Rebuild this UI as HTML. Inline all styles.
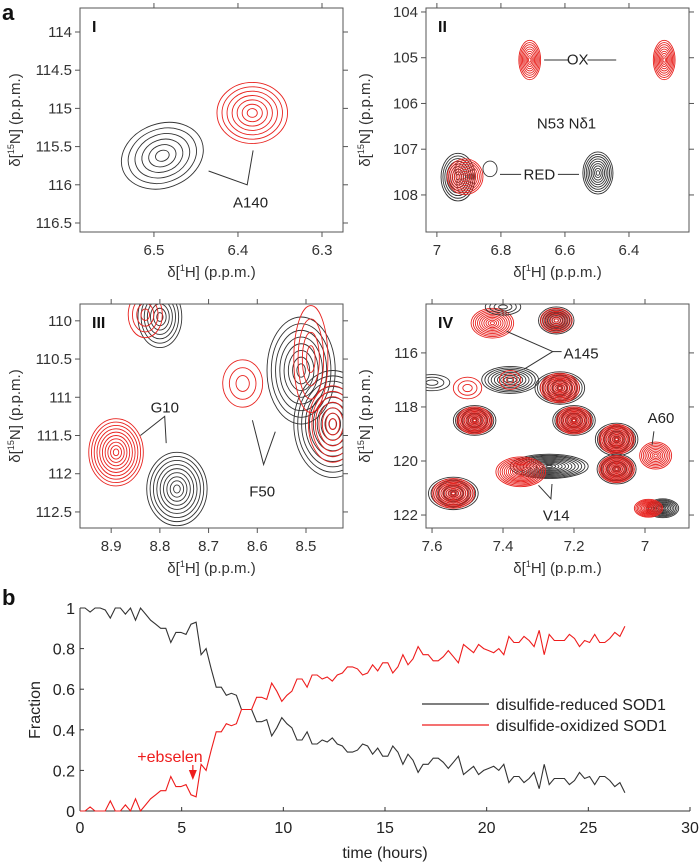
<!DOCTYPE html>
<html><head><meta charset="utf-8">
<style>
html,body{margin:0;padding:0;background:#fff;}
svg{display:block;font-family:"Liberation Sans",Arial,sans-serif;}
</style></head>
<body>
<svg id="fig" width="700" height="864" viewBox="0 0 700 864"></svg>
<script>
// ---------- Panel b data ----------
const bTimeStart = 0;
const bTimeEnd = 26.8;
const reducedFraction = [1,1,.98,1,1,.99,.95,1,1,.97,1,.94,1,.97,.94,.92,.90,.90,.83,.88,.88,.87,.92,.93,.77,.80,.70,.61,.61,.57,.58,.57,.50,.50,.50,.44,.44,.45,.37,.41,.46,.43,.41,.35,.35,.39,.33,.33,.35,.34,.36,.33,.32,.29,.29,.30,.33,.32,.28,.31,.27,.27,.32,.29,.23,.28,.25,.19,.23,.23,.26,.26,.24,.21,.24,.27,.18,.20,.22,.18,.20,.21,.22,.20,.23,.14,.17,.17,.14,.16,.19,.11,.23,.13,.16,.16,.16,.13,.15,.19,.16,.17,.13,.17,.17,.15,.12,.14,.09];
const oxidizedFraction = [0,0,.02,0,0,0,.05,0,0,.03,0,.06,0,.03,.06,.08,.10,.10,.17,.12,.12,.13,.08,.07,.23,.20,.30,.39,.39,.43,.42,.43,.50,.50,.50,.56,.56,.55,.63,.59,.54,.57,.59,.65,.65,.61,.67,.67,.65,.66,.64,.67,.68,.71,.71,.70,.67,.68,.72,.69,.73,.73,.68,.71,.77,.72,.75,.81,.77,.77,.74,.74,.76,.79,.76,.73,.82,.80,.78,.82,.80,.79,.78,.80,.77,.86,.83,.83,.86,.84,.81,.89,.77,.87,.84,.84,.84,.87,.85,.81,.84,.83,.87,.83,.83,.85,.88,.86,.91];
const bXTicks = [0,5,10,15,20,25,30];
const bYTicks = [0,0.2,0.4,0.6,0.8,1];
const bYTickLabels = ["0","0.2","0.4","0.6","0.8","1"];

// ---------- Panel a data (peaks: [H ppm, N ppm, rxPpm, ryPpm, rotDeg, rings, color]) ----------
const peaksI = [
 [6.383,115.06,0.042,0.4,0,7,'r'],
 [6.49,115.62,0.05,0.42,-20,6,'k']
];
const peaksII = [
 [6.71,105.05,0.034,0.43,0,9,'r'],
 [6.29,105.05,0.034,0.43,0,9,'r'],
 [6.497,107.52,0.047,0.46,0,9,'k'],
 [6.934,107.61,0.053,0.52,0,9,'k'],
 [6.834,107.43,0.022,0.17,0,1,'k'],
 [6.912,107.6,0.056,0.39,0,10,'r']
];
const peaksIII = [
 [8.89,111.72,0.056,0.44,0,10,'r'],
 [8.765,112.2,0.062,0.48,0,9,'k'],
 [8.63,110.82,0.041,0.31,0,3,'r'],
 [8.80,109.95,0.045,0.4,0,7,'k'],
 [8.83,109.92,0.035,0.3,0,4,'r'],
 [8.51,110.65,0.07,0.7,0,8,'k'],
 [8.445,111.35,0.08,0.7,0,10,'k'],
 [8.49,110.5,0.035,0.7,0,4,'r'],
 [8.445,111.35,0.05,0.5,0,7,'r']
];
const peaksIV = [
 [7.54,121.2,0.07,0.6,0,10,'k'],[7.54,121.2,0.06,0.55,0,12,'r'],
 [7.48,118.5,0.06,0.55,0,10,'k'],[7.48,118.5,0.05,0.5,0,12,'r'],
 [7.2,118.5,0.06,0.55,0,10,'k'],[7.2,118.5,0.05,0.5,0,12,'r'],
 [7.24,117.3,0.07,0.6,0,10,'k'],[7.24,117.3,0.055,0.55,0,12,'r'],
 [7.25,114.8,0.05,0.5,0,8,'k'],[7.25,114.8,0.045,0.45,0,8,'r'],
 [7.08,119.2,0.06,0.6,0,10,'k'],[7.08,119.2,0.05,0.55,0,12,'r'],
 [7.08,120.3,0.055,0.55,0,10,'k'],[7.08,120.3,0.05,0.5,0,12,'r'],
 [6.95,121.75,0.045,0.35,0,10,'k'],[6.99,121.75,0.04,0.33,0,10,'r'],
 [6.97,119.8,0.045,0.5,0,9,'r'],
 [7.43,114.9,0.06,0.55,0,10,'r'],
 [7.27,120.2,0.11,0.45,0,12,'k'],
 [7.35,120.4,0.07,0.55,0,12,'r'],
 [7.38,117.0,0.08,0.5,0,9,'k'],[7.38,117.0,0.03,0.35,0,3,'r'],
 [7.5,117.3,0.04,0.4,0,3,'r'],[7.6,117.1,0.05,0.3,0,3,'k'],
 [7.4,114.3,0.05,0.3,0,4,'k']
];

const NS='http://www.w3.org/2000/svg';
const svg=document.getElementById('fig');
function el(tag,attrs,parent){const e=document.createElementNS(NS,tag);for(const k in attrs)e.setAttribute(k,attrs[k]);(parent||svg).appendChild(e);return e;}
const COL={r:'#e8231f',k:'#333'};

const panels=[
 {id:'I',fx:80,fy:8,fw:263,fh:224,hL:6.588,hR:6.275,nT:113.686,nB:116.618,xt:[6.5,6.4,6.3],yt:[114,114.5,115,115.5,116,116.5],peaks:peaksI,titleY:277,yTitleX:15},
 {id:'II',fx:426,fy:8,fw:263,fh:224,hL:7.034,hR:6.2125,nT:103.913,nB:108.81,xt:[7,6.8,6.6,6.4],yt:[104,105,106,107,108],peaks:peaksII,titleY:277,yTitleX:365},
 {id:'III',fx:80,fy:304,fw:263,fh:224,hL:8.964,hR:8.424,nT:109.78,nB:112.71,xt:[8.9,8.8,8.7,8.6,8.5],yt:[110,110.5,111,111.5,112,112.5],peaks:peaksIII,titleY:573,yTitleX:15},
 {id:'IV',fx:426,fy:304,fw:263,fh:224,hL:7.617,hR:6.876,nT:114.19,nB:122.48,xt:[7.6,7.4,7.2,7],yt:[116,118,120,122],peaks:peaksIV,titleY:573,yTitleX:365}
];

el('text',{x:2,y:20,'font-size':22,'font-weight':'bold',fill:'#111',}).textContent='a';

panels.forEach(p=>{
 const g=el('g',{});
 
 
 const sx=h=>p.fx+(p.hL-h)/(p.hL-p.hR)*p.fw;
 const sy=n=>p.fy+(n-p.nT)/(p.nB-p.nT)*p.fh;
 p.sx=sx;p.sy=sy;
 const cp=el('clipPath',{id:'clip'+p.id},g);
 el('rect',{x:p.fx,y:p.fy,width:p.fw,height:p.fh},cp);
 const cg=el('g',{'clip-path':'url(#clip'+p.id+')'},g);
 
 
 p.peaks.forEach(pk=>{
  const [h,n,rx,ry,rot,rings,c]=pk;
  const cx=sx(h),cy=sy(n);
  const rxp=rx/(p.hL-p.hR)*p.fw, ryp=ry/(p.nB-p.nT)*p.fh;
  for(let k=0;k<rings;k++){
   const s=(k+1)/rings;
   const e=el('ellipse',{cx:cx,cy:cy,rx:Math.max(0.8,rxp*s),ry:Math.max(0.8,ryp*s),fill:'none',stroke:COL[c],'stroke-width':0.9,transform:`rotate(${rot} ${cx} ${cy})`},cg);
   
   
  }
 });
 const fr=el('rect',{x:p.fx,y:p.fy,width:p.fw,height:p.fh,fill:'none',stroke:'#555','stroke-width':1},g);
 
 
 p.xt.forEach(t=>{
  const x=sx(t);
  el('line',{x1:x,x2:x,y1:p.fy+p.fh,y2:p.fy+p.fh+5,stroke:'#555'},g);
  el('line',{x1:x,x2:x,y1:p.fy,y2:p.fy-5,stroke:'#555'},g);
  const tl=el('text',{x:x,y:p.fy+p.fh+23,'font-size':15,fill:'#333','text-anchor':'middle'},g);
  
  
  tl.textContent=String(t);
 });
 p.yt.forEach(t=>{
  const y=sy(t);
  el('line',{x1:p.fx,x2:p.fx-5,y1:y,y2:y,stroke:'#555'},g);
  el('line',{x1:p.fx+p.fw,x2:p.fx+p.fw+5,y1:y,y2:y,stroke:'#555'},g);
  const tl=el('text',{x:p.fx-8,y:y+5,'font-size':15,fill:'#333','text-anchor':'end'},g);
  
  
  tl.textContent=String(t);
 });
 const xt=el('text',{x:p.fx+p.fw/2,y:p.titleY,'font-size':15,fill:'#333','text-anchor':'middle'},g);
 
 
 xt.innerHTML='δ[<tspan font-size="9" dy="-6">1</tspan><tspan dy="6">H] (p.p.m.)</tspan>';
 const yt=el('text',{x:0,y:0,'font-size':15,fill:'#333','text-anchor':'middle',transform:`translate(${p.yTitleX+5},${p.fy+p.fh/2}) rotate(-90)`},g);
 
 
 yt.innerHTML='δ[<tspan font-size="9" dy="-6">15</tspan><tspan dy="6">N] (p.p.m.)</tspan>';
 const pl=el('text',{x:p.fx+12,y:p.fy+24,'font-size':16,'font-weight':'bold',fill:'#111'},g);
 
 
 pl.textContent=p.id;
});

function ann(p,pts,color){
 const d=pts.map((q,i)=>(i?'L':'M')+p.sx(q[0]).toFixed(1)+' '+p.sy(q[1]).toFixed(1)).join(' ');
 const e=el('path',{d:d,fill:'none',stroke:color||'#333','stroke-width':1});
 
 
}
function lab(p,h,n,txt,name,size){
 const e=el('text',{x:p.sx(h),y:p.sy(n),'font-size':size||15,fill:'#222','text-anchor':'middle'});
 
 
 e.textContent=txt;
}
const [P1,P2,P3,P4]=panels;
ann(P1,[[6.435,115.82],[6.389,116.0],[6.382,115.55]]);
lab(P1,6.385,116.3,'A140','label-a140');
ann(P2,[[6.665,105.05],[6.59,105.05]]);ann(P2,[[6.53,105.05],[6.44,105.05]]);
lab(P2,6.56,105.15,'OX','label-ox',15);
lab(P2,6.595,106.55,'N53 Nδ1','label-n53');
ann(P2,[[6.803,107.55],[6.737,107.55]]);ann(P2,[[6.622,107.55],[6.556,107.55]]);
lab(P2,6.68,107.66,'RED','label-red',15);
ann(P3,[[8.84,111.5],[8.79,111.25],[8.787,111.6]]);
lab(P3,8.79,111.2,'G10','label-g10');
ann(P3,[[8.61,111.3],[8.587,111.88],[8.563,111.45]]);
lab(P3,8.59,112.3,'F50','label-f50');
ann(P4,[[7.39,115.2],[7.26,115.95],[7.34,116.6]]);ann(P4,[[7.26,115.95],[7.235,115.95]]);
lab(P4,7.18,116.2,'A145','label-a145');
ann(P4,[[6.98,119.4],[6.975,118.9]]);
lab(P4,6.955,118.6,'A60','label-a60');
ann(P4,[[7.3,120.9],[7.265,121.4],[7.262,120.85]]);
lab(P4,7.25,122.2,'V14','label-v14');

// ---------- Panel b ----------
const bx0=80,bx1=690,by0=811,by1=608;
const bxs=t=>bx0+(t-0)/(30-0)*(bx1-bx0);
const bys=v=>by0+(v-0)/(1-0)*(by1-by0);
const gb=el('g',{});


const bl=el('text',{x:2,y:605,'font-size':22,'font-weight':'bold',fill:'#111'},gb);


bl.textContent='b';
el('line',{x1:bx0,x2:bx0,y1:by0,y2:by1,stroke:'#333'},gb);
el('line',{x1:bx0,x2:bx1,y1:by0,y2:by0,stroke:'#333'},gb);
bXTicks.forEach(t=>{
 el('line',{x1:bxs(t),x2:bxs(t),y1:by0,y2:by0-4,stroke:'#333'},gb);
 const e=el('text',{x:bxs(t),y:by0+22,'font-size':16,fill:'#222','text-anchor':'middle'},gb);
 
 
 e.textContent=String(t);
});
bYTicks.forEach((v,i)=>{
 el('line',{x1:bx0,x2:bx0+4,y1:bys(v),y2:bys(v),stroke:'#333'},gb);
 const e=el('text',{x:bx0-5,y:bys(v)+6,'font-size':16,fill:'#222','text-anchor':'end'},gb);
 
 
 e.textContent=bYTickLabels[i];
});
const xtb=el('text',{x:bxs(15),y:858,'font-size':16,fill:'#222','text-anchor':'middle'},gb);


xtb.textContent='time (hours)';
const ytb=el('text',{x:0,y:0,'font-size':16,fill:'#222','text-anchor':'middle',transform:'translate(40,710) rotate(-90)'},gb);


ytb.textContent='Fraction';
function series(vals,color,name){
 const n=vals.length;
 const d=vals.map((v,i)=>{const t=bTimeStart+(bTimeEnd-bTimeStart)*i/(n-1);return (i?'L':'M')+bxs(t).toFixed(1)+' '+bys(v).toFixed(1);}).join(' ');
 const e=el('path',{d:d,fill:'none',stroke:color,'stroke-width':1.1},gb);
 
 
}
series(reducedFraction,'#333','reduced-line');
series(oxidizedFraction,'#ee1c1c','oxidized-line');
const lg=el('g',{},gb);


el('line',{x1:422,x2:489,y1:704,y2:704,stroke:'#333','stroke-width':1.2},lg);
el('line',{x1:422,x2:489,y1:725,y2:725,stroke:'#ee1c1c','stroke-width':1.2},lg);
const l1=el('text',{x:496,y:710,'font-size':16,fill:'#222'},lg);


l1.textContent='disulfide-reduced SOD1';
const l2=el('text',{x:496,y:731,'font-size':16,fill:'#222'},lg);


l2.textContent='disulfide-oxidized SOD1';
const eb=el('text',{x:170,y:762,'font-size':16,fill:'#ee1c1c','text-anchor':'middle'},gb);


eb.textContent='+ebselen';
el('line',{x1:bxs(5.55),x2:bxs(5.55),y1:765,y2:772,stroke:'#ee1c1c','stroke-width':1.2},gb);
const ar=el('path',{d:`M${bxs(5.55)-4} 770 L${bxs(5.55)+4} 770 L${bxs(5.55)} 780 Z`,fill:'#ee1c1c'},gb);


</script>
</body></html>
